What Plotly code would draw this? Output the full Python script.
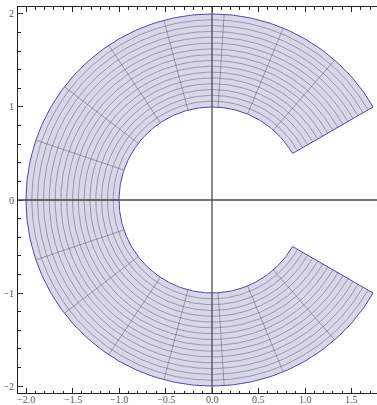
import numpy as np
import plotly.graph_objects as go

# Region: annulus sector r in [1, 2], angle in [30°, 330°]
radius_range = [1.0, 2.0]
angle_range_deg = [30.0, 330.0]
mesh_count_r = 15
mesh_count_theta = 15

x_tick_vals = [-2.0, -1.5, -1.0, -0.5, 0.0, 0.5, 1.0, 1.5]
x_tick_text = ["\u22122.0", "\u22121.5", "\u22121.0", "\u22120.5", "0.0", "0.5", "1.0", "1.5"]
y_tick_vals = [-2, -1, 0, 1, 2]
y_tick_text = ["\u22122", "\u22121", "0", "1", "2"]

r0, r1 = radius_range
t0, t1 = np.radians(angle_range_deg[0]), np.radians(angle_range_deg[1])
th = np.linspace(t0, t1, 400)

fig = go.Figure()

# filled region
bx = np.concatenate([r1 * np.cos(th), r0 * np.cos(th[::-1]), [r1 * np.cos(t0)]])
by = np.concatenate([r1 * np.sin(th), r0 * np.sin(th[::-1]), [r1 * np.sin(t0)]])
fig.add_trace(go.Scatter(x=bx, y=by, mode="lines", fill="toself",
                         fillcolor="#d7d7ea", line=dict(color="rgba(0,0,0,0)", width=0),
                         hoverinfo="skip", showlegend=False))

# mesh lines
mx, my = [], []
for k in range(1, mesh_count_r + 1):
    r = r0 + (r1 - r0) * k / (mesh_count_r + 1)
    mx += list(r * np.cos(th)) + [None]
    my += list(r * np.sin(th)) + [None]
for k in range(1, mesh_count_theta + 1):
    t = t0 + (t1 - t0) * k / (mesh_count_theta + 1)
    mx += [r0 * np.cos(t), r1 * np.cos(t), None]
    my += [r0 * np.sin(t), r1 * np.sin(t), None]
fig.add_trace(go.Scatter(x=mx, y=my, mode="lines",
                         line=dict(color="rgba(90,90,100,0.5)", width=1),
                         hoverinfo="skip", showlegend=False))

# boundary
fig.add_trace(go.Scatter(x=bx, y=by, mode="lines",
                         line=dict(color="#4b4ba8", width=1),
                         hoverinfo="skip", showlegend=False))

# axes through origin
axis_color = "#4a4a4a"
fig.add_shape(type="line", xref="x", yref="paper", x0=0, x1=0, y0=0, y1=1,
              line=dict(color=axis_color, width=1.3))
fig.add_shape(type="line", xref="paper", yref="y", x0=0, x1=1, y0=0, y1=0,
              line=dict(color=axis_color, width=1.3))

tick_font = dict(family="Liberation Serif, Times New Roman, serif", size=10, color="#555555")

# x tick labels placed tightly under the frame
for v, t in zip(x_tick_vals, x_tick_text):
    fig.add_annotation(x=v, y=0, xref="x", yref="paper", text=t, showarrow=False,
                       xanchor="center", yanchor="top", yshift=1,
                       font=tick_font)

fig.update_layout(
    width=377, height=405,
    margin=dict(l=18, r=0, t=7, b=12, autoexpand=False),
    paper_bgcolor="white", plot_bgcolor="white",
    xaxis=dict(range=[-2.086, 1.774], showgrid=False, zeroline=False, automargin=False,
               showline=True, linecolor="#222222", linewidth=1, mirror="ticks",
               ticks="inside", ticklen=5, tickcolor="#222222", tickwidth=1,
               tickvals=x_tick_vals, showticklabels=False,
               minor=dict(dtick=0.1, tick0=0, ticks="inside", ticklen=2.5,
                          tickcolor="#222222", showgrid=False)),
    yaxis=dict(range=[-2.075, 2.075], showgrid=False, zeroline=False, automargin=False,
               showline=True, linecolor="#222222", linewidth=1,
               ticks="inside", ticklen=5, tickcolor="#222222", tickwidth=1,
               tickvals=y_tick_vals, ticktext=y_tick_text, tickfont=tick_font,
               ticklabelstandoff=1,
               minor=dict(dtick=0.2, tick0=0, ticks="inside", ticklen=2.5,
                          tickcolor="#222222", showgrid=False)),
)

fig.write_html("out.html", config={"displayModeBar": False},
               post_script="document.body.style.margin='0';document.body.style.padding='0';")
